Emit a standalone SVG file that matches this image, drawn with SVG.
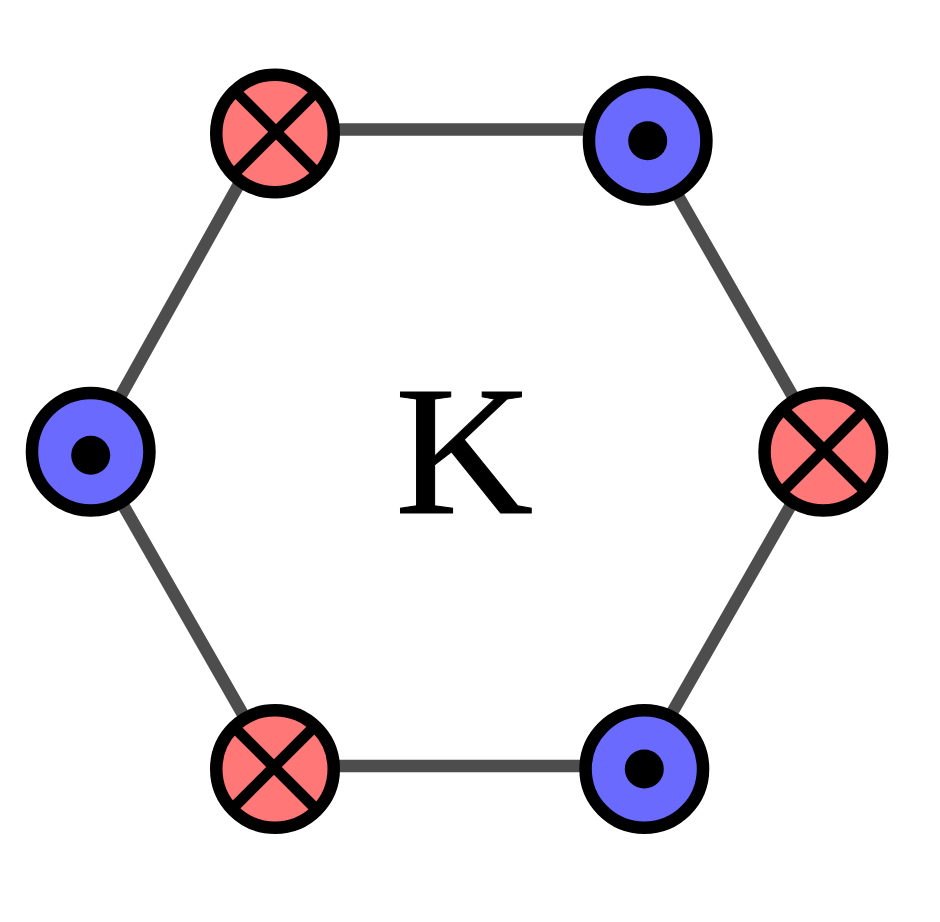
<svg xmlns="http://www.w3.org/2000/svg" width="940" height="922" viewBox="0 0 940 922">
<style>
.c{stroke:#000;stroke-width:12.500}
.r{fill:#ff7777}
.b{fill:#6a6aff}
.x{stroke:#000;stroke-width:11;fill:none}
.e{stroke:#4d4d4d;stroke-width:12.400;fill:none;stroke-linejoin:round}
</style>
<defs>
<circle id="red" class="c r" r="58.750"/>
<circle id="blue" class="c b" r="58.750"/>
<path id="cross" class="x" d="M-42-42L42 42M-42 42L42-42"/>
<circle id="dot" r="19.500" fill="#000"/>
</defs>
<rect width="940" height="922" fill="#fff"/>
<g id="connectors">
<path class="e" d="M269.500 129.500H640L823 449L641.500 766H272.500L91 449Z"/>
</g>
<g id="n1"><use href="#red" x="275" y="133.500"/><use href="#cross" x="276" y="131.800"/></g>
<g id="n2"><use href="#blue" x="647.700" y="140.700"/><use href="#dot" x="647.700" y="140.700"/></g>
<g id="n3"><use href="#red" x="823.300" y="451.700"/><use href="#cross" x="824" y="450"/></g>
<g id="n4"><use href="#blue" x="644.300" y="769"/><use href="#dot" x="644.300" y="769"/></g>
<g id="n5"><use href="#red" x="275" y="769"/><use href="#cross" x="274" y="767"/></g>
<g id="n6"><use href="#blue" x="90.700" y="451.700"/><use href="#dot" x="90.700" y="455.300"/></g>
<text transform="translate(395 512.500) scale(1.040 1)" font-family="Liberation Serif, serif" font-size="184" fill="#000" stroke="#000" stroke-width="1">K</text>
</svg>
